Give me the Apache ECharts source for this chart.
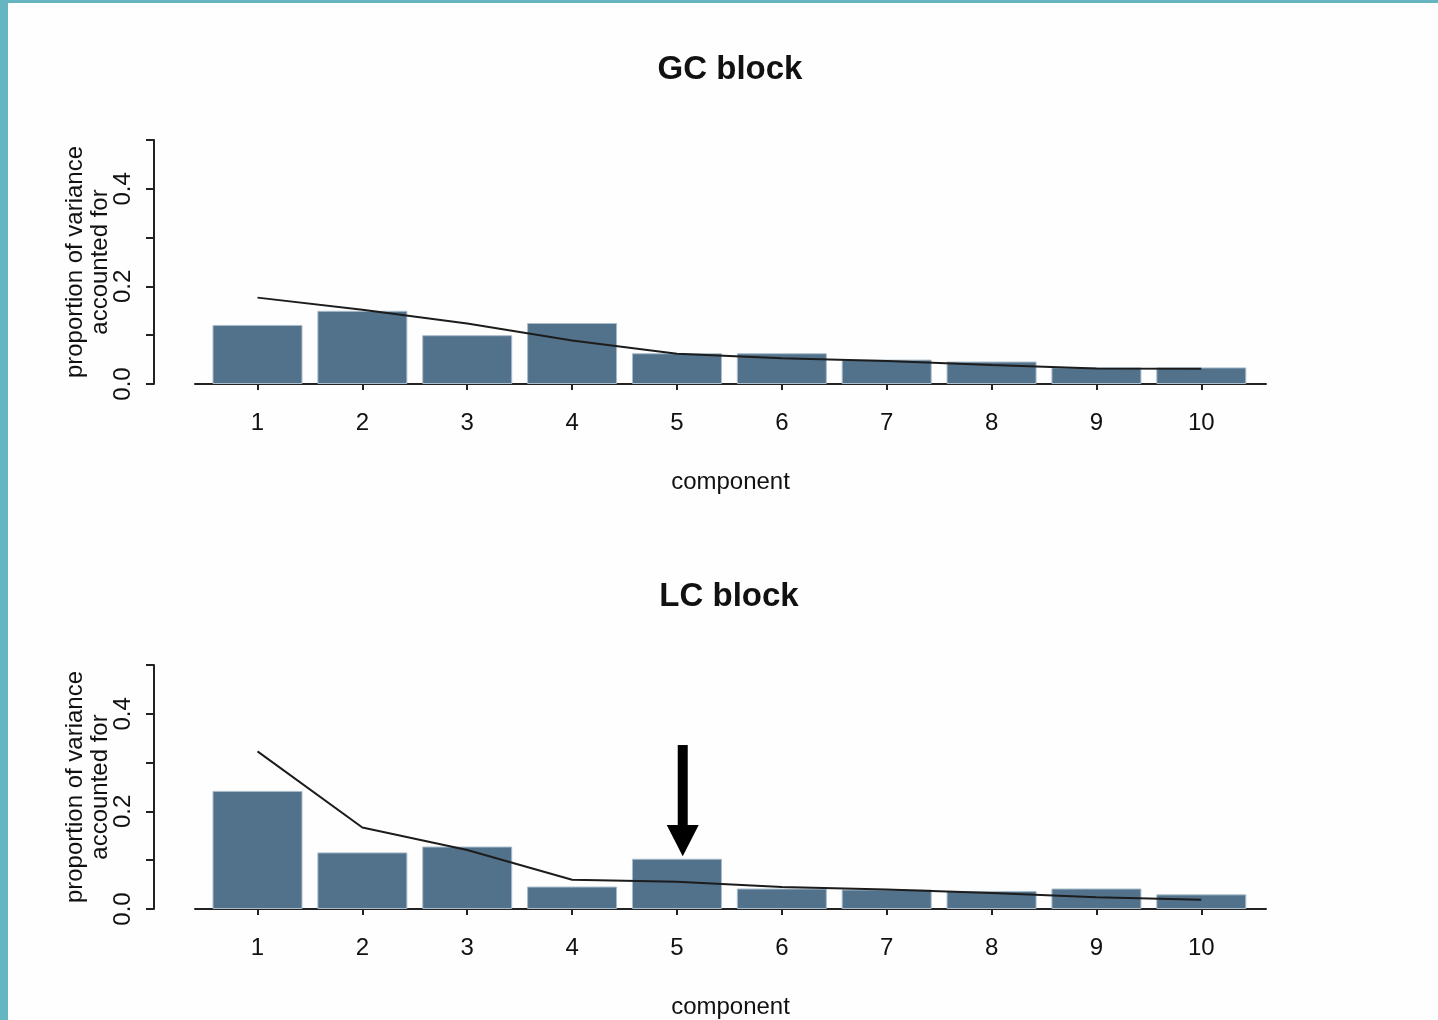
<!DOCTYPE html>
<html>
<head>
<meta charset="utf-8">
<script src="https://cdn.jsdelivr.net/npm/echarts@6/dist/echarts.min.js"></script>
<style>
  html, body { margin: 0; padding: 0; background: #fefefe; }
  #chart { position: absolute; left: 0; top: 0; width: 1438px; height: 1020px; }
  .strip { position: absolute; background: #66b6c1; z-index: 5; }
</style>
</head>
<body>
<div id="chart"></div>
<div class="strip" style="left:0;top:0;width:8px;height:1020px;"></div>
<div class="strip" style="left:0;top:0;width:1438px;height:3px;"></div>
<script>
// ---- data ----
const components = [1, 2, 3, 4, 5, 6, 7, 8, 9, 10];
const gcBars = [0.121, 0.150, 0.100, 0.125, 0.063, 0.063, 0.050, 0.046, 0.034, 0.034];
const gcLine = [0.177, 0.152, 0.124, 0.089, 0.062, 0.053, 0.047, 0.039, 0.032, 0.031];
const lcBars = [0.242, 0.116, 0.128, 0.046, 0.103, 0.042, 0.040, 0.037, 0.042, 0.030];
const lcLine = [0.323, 0.167, 0.121, 0.060, 0.056, 0.045, 0.040, 0.033, 0.024, 0.019];
const titles = ['GC block', 'LC block'];
const yLabelTicks = [0, 0.2, 0.4];
const xName = 'component';
const yName = 'proportion of variance\naccounted for';
// annotation arrow (data coords in LC panel): x, top, head base, tip
const arrowAnno = { x: 5.055, top: 0.336, headBase: 0.172, tip: 0.108 };

const FONT = "'Liberation Sans', Arial, sans-serif";
const TXT = '#111111';
const AX = '#222222';
const BAR = '#52728c';

const pair = (vals) => components.map((c, i) => [c, vals[i]]);

function makeX(gridIndex) {
  return {
    type: 'value', gridIndex, min: 0.404, max: 10.617,
    name: xName, nameLocation: 'middle', nameGap: 86, nameMoveOverlap: false,
    nameTextStyle: { fontSize: 24, color: TXT, fontFamily: FONT },
    splitLine: { show: false },
    axisLine: { show: true, onZero: false, lineStyle: { color: AX, width: 2 } },
    axisTick: { show: true, length: 6, lineStyle: { color: AX, width: 2 }, customValues: components },
    axisLabel: { fontSize: 24, color: TXT, fontFamily: FONT, margin: 27, customValues: components,
                 formatter: v => String(v) }
  };
}
function makeY(gridIndex) {
  return {
    type: 'value', gridIndex, min: 0, max: 0.5, interval: 0.1, offset: 41,
    name: yName, nameLocation: 'middle', nameGap: 41, nameRotate: 90, nameMoveOverlap: false,
    nameTextStyle: { fontSize: 24, color: TXT, fontFamily: FONT, lineHeight: 25 },
    splitLine: { show: false },
    axisLine: { show: true, lineStyle: { color: AX, width: 2 } },
    axisTick: { show: true, length: 8, lineStyle: { color: AX, width: 2 } },
    axisLabel: {
      rotate: 90, fontSize: 24, color: TXT, fontFamily: FONT, margin: 19,
      formatter: v => (yLabelTicks.some(t => Math.abs(t - v) < 1e-9) ? v.toFixed(1) : '')
    }
  };
}

const chart = echarts.init(document.getElementById('chart'), null, { renderer: 'canvas' });
chart.setOption({
  animation: false,
  backgroundColor: '#fefefe',
  title: [
    { text: titles[0], left: 725, top: 48, textAlign: 'center',
      textStyle: { fontSize: 33, fontWeight: 'bold', color: TXT, fontFamily: FONT } },
    { text: titles[1], left: 724, top: 575, textAlign: 'center',
      textStyle: { fontSize: 33, fontWeight: 'bold', color: TXT, fontFamily: FONT } }
  ],
  grid: [
    { left: 195, width: 1071, top: 140, height: 244 },
    { left: 195, width: 1071, top: 665, height: 244.5 }
  ],
  xAxis: [makeX(0), makeX(1)],
  yAxis: [makeY(0), makeY(1)],
  series: [
    { type: 'bar', xAxisIndex: 0, yAxisIndex: 0, data: pair(gcBars), barWidth: 90,
      itemStyle: { color: BAR, borderColor: '#a9bccb', borderWidth: 1 } },
    { type: 'line', xAxisIndex: 0, yAxisIndex: 0, data: pair(gcLine), showSymbol: false,
      symbol: 'none', lineStyle: { color: '#1c1c1c', width: 2 }, z: 5 },
    { type: 'bar', xAxisIndex: 1, yAxisIndex: 1, data: pair(lcBars), barWidth: 90,
      itemStyle: { color: BAR, borderColor: '#a9bccb', borderWidth: 1 } },
    { type: 'line', xAxisIndex: 1, yAxisIndex: 1, data: pair(lcLine), showSymbol: false,
      symbol: 'none', lineStyle: { color: '#1c1c1c', width: 2 }, z: 5 }
  ]
});

// arrow annotation positioned through the LC panel's scales
const pTop = chart.convertToPixel({ gridIndex: 1 }, [arrowAnno.x, arrowAnno.top]);
const pBase = chart.convertToPixel({ gridIndex: 1 }, [arrowAnno.x, arrowAnno.headBase]);
const pTip = chart.convertToPixel({ gridIndex: 1 }, [arrowAnno.x, arrowAnno.tip]);
const cx = pTop[0];
chart.setOption({
  graphic: [
    { type: 'rect', z: 100, shape: { x: cx - 5, y: pTop[1], width: 10, height: pBase[1] - pTop[1] + 1 },
      style: { fill: '#000' } },
    { type: 'polygon', z: 100, shape: { points: [[cx - 16, pBase[1]], [cx + 16, pBase[1]], [cx, pTip[1]]] },
      style: { fill: '#000' } }
  ]
});
</script>
</body>
</html>
